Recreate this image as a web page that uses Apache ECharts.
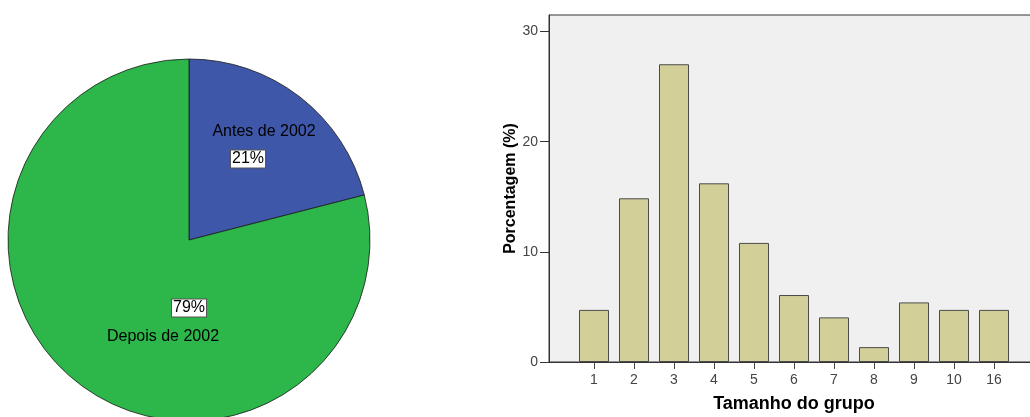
<!DOCTYPE html>
<html><head><meta charset="utf-8">
<script src="https://cdn.jsdelivr.net/npm/echarts@6/dist/echarts.min.js"></script>
<style>html,body{margin:0;padding:0;background:#fff}#c{width:1030px;height:417px}</style>
</head><body><div id="c"></div>
<script>
const pieNames = ['Antes de 2002', 'Depois de 2002'];
const pieValues = [21, 79];
const pieColors = ['#3f57a9', '#2db74b'];
const groupSizes = ['1', '2', '3', '4', '5', '6', '7', '8', '9', '10', '16'];
const groupPercents = [4.73, 14.86, 27.03, 16.22, 10.81, 6.08, 4.05, 1.35, 5.41, 4.73, 4.73];
const yTicks = [0, 10, 20, 30];

const FONT = 'Liberation Sans, Arial, sans-serif';
const chart = echarts.init(document.getElementById('c'), null, {renderer: 'canvas'});

const pieData = pieNames.map((n, i) => ({name: n, value: pieValues[i], itemStyle: {color: pieColors[i]}}));
const pieDataClear = pieNames.map((n, i) => ({name: n, value: pieValues[i]}));
const pctPos = [[248, 159], [189, 308]];
const namePos = [[264, 132], [163, 337]];

chart.setOption({
  animation: false,
  backgroundColor: '#ffffff',
  grid: [
    {left: 549, width: 490, top: 15, height: 347, show: true, backgroundColor: '#f0f0f0', borderColor: '#333', borderWidth: 1, outerBoundsMode: 'none', containLabel: false},
    {left: 574, width: 440, top: 15, height: 347, outerBoundsMode: 'none', containLabel: false}
  ],
  xAxis: [
    {gridIndex: 0, type: 'value', min: 0, max: 1, axisLine: {show: true, lineStyle: {color: '#333'}}, axisTick: {show: false}, axisLabel: {show: false}, splitLine: {show: false}},
    {gridIndex: 1, type: 'category', data: groupSizes, boundaryGap: true,
      axisLine: {show: false},
      axisTick: {show: true, alignWithLabel: true, length: 7, lineStyle: {color: '#444'}},
      axisLabel: {color: '#444', fontSize: 14, fontFamily: FONT, margin: 11},
      name: 'Tamanho do grupo', nameLocation: 'middle', nameGap: 33,
      nameTextStyle: {color: '#000', fontSize: 18, fontWeight: 'bold', fontFamily: FONT}}
  ],
  yAxis: [
    {gridIndex: 0, type: 'value', min: 0, max: 31.5,
      axisLine: {show: true, lineStyle: {color: '#333'}},
      axisTick: {show: true, length: 9, customValues: yTicks, lineStyle: {color: '#333'}},
      axisLabel: {color: '#444', fontSize: 14, fontFamily: FONT, margin: 11, customValues: yTicks},
      splitLine: {show: false},
      name: 'Porcentagem (%)', nameLocation: 'middle', nameGap: 29, nameRotate: 90,
      nameTextStyle: {color: '#000', fontSize: 16, fontWeight: 'bold', fontFamily: FONT}},
    {gridIndex: 1, type: 'value', min: 0, max: 31.5, show: false}
  ],
  series: [
    {type: 'bar', xAxisIndex: 1, yAxisIndex: 1, data: groupPercents, barWidth: 30,
      itemStyle: {color: '#d3cf98', borderColor: '#4a4a4a', borderWidth: 1}, silent: true},
    {type: 'pie', center: [189, 240], radius: 181, startAngle: 90, clockwise: true,
      data: pieData, silent: true,
      itemStyle: {borderColor: '#1a1a1a', borderWidth: 0.8},
      label: {show: true, position: 'inside', formatter: (p) => p.value + '%',
        color: '#000', fontSize: 16, fontFamily: FONT, backgroundColor: '#fff',
        borderColor: '#555', borderWidth: 1, padding: [1, 1, 0, 1], align: 'center', verticalAlign: 'middle'},
      labelLine: {show: false},
      labelLayout: (p) => ({x: pctPos[p.dataIndex][0], y: pctPos[p.dataIndex][1], align: 'center', verticalAlign: 'middle'})
    },
    {type: 'pie', center: [189, 240], radius: 181, startAngle: 90, clockwise: true,
      data: pieDataClear, silent: true, z: 3,
      itemStyle: {color: 'rgba(0,0,0,0)', borderWidth: 0},
      label: {show: true, position: 'inside', formatter: '{b}', color: '#000', fontSize: 16, fontFamily: FONT},
      labelLine: {show: false},
      labelLayout: (p) => ({x: namePos[p.dataIndex][0], y: namePos[p.dataIndex][1], align: 'center', verticalAlign: 'middle'})
    }
  ]
});
</script></body></html>
